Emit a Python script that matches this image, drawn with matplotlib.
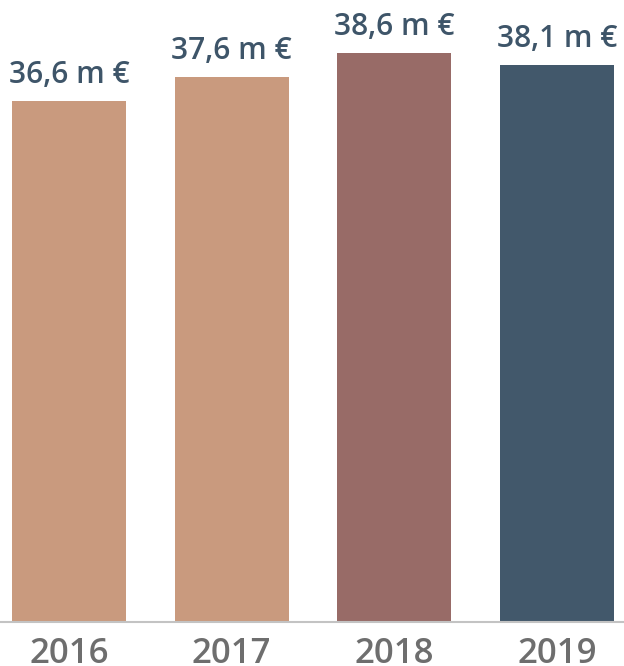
import matplotlib
matplotlib.use("Agg")
import matplotlib.pyplot as plt

years = ["2016", "2017", "2018", "2019"]
values = [36.6, 37.6, 38.6, 38.1]
labels = ["36,6 m €", "37,6 m €", "38,6 m €", "38,1 m €"]
colors = ["#c99a7e", "#c99a7e", "#986b67", "#42586b"]

plt.rcParams["font.family"] = ["Open Sans", "DejaVu Sans"]

fig = plt.figure(figsize=(6.24, 6.66), dpi=100)
ax = fig.add_axes([0, 1 - 621.5 / 666, 1, 621.5 / 666])

x = list(range(len(years)))
ax.bar(x, values, width=0.7, color=colors, zorder=2)

for i, v in enumerate(values):
    ax.annotate(labels[i], xy=(i, v), xytext=(0, 13), textcoords="offset points",
                ha="center", va="baseline", fontsize=21.5, fontweight="semibold",
                color="#3e5569")
    ax.annotate(years[i], xy=(i, 0), xycoords=("data", "axes fraction"),
                xytext=(0, -30), textcoords="offset points",
                ha="center", va="baseline", fontsize=25, fontweight="semibold",
                color="#6e6e6e", annotation_clip=False)

ax.set_xlim(-0.424, 3.412)
ax.set_ylim(14.91, 14.91 + 621.5 / 24)
for s in ["top", "right", "left"]:
    ax.spines[s].set_visible(False)
ax.spines["bottom"].set_color("#c3c3c3")
ax.spines["bottom"].set_linewidth(1.5)
ax.spines["bottom"].set_zorder(3)
ax.set_xticks([])
ax.set_yticks([])

fig.savefig("out.png", dpi=100)
